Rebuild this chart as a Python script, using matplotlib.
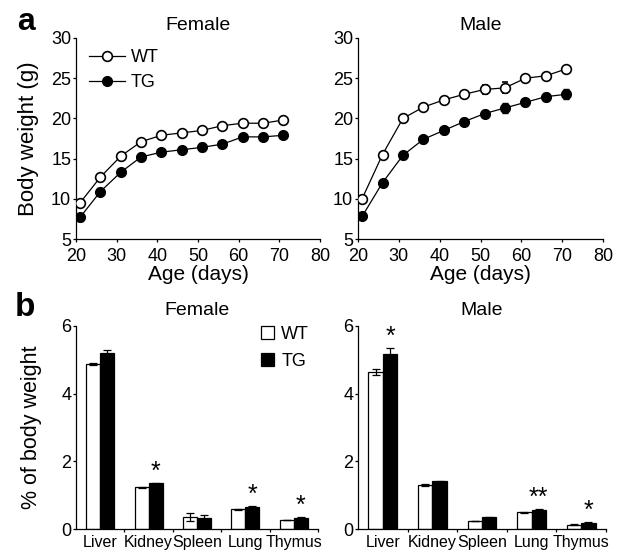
import numpy as np
import matplotlib
matplotlib.use("Agg")
import matplotlib.pyplot as plt

plt.rcParams['font.family'] = ['Liberation Sans', 'DejaVu Sans']

# body weight curves
ages = [21, 26, 31, 36, 41, 46, 51, 56, 61, 66, 71]
female_wt = [9.5, 12.7, 15.3, 17.1, 17.9, 18.2, 18.5, 19.1, 19.4, 19.4, 19.8]
female_wt_err = [0.3, 0.3, 0.3, 0.3, 0.3, 0.3, 0.3, 0.3, 0.4, 0.3, 0.3]
female_tg = [7.7, 10.9, 13.3, 15.2, 15.8, 16.1, 16.4, 16.8, 17.7, 17.7, 17.9]
female_tg_err = [0.4, 0.4, 0.4, 0.5, 0.4, 0.4, 0.5, 0.4, 0.4, 0.3, 0.3]
male_wt = [10.0, 15.5, 20.0, 21.4, 22.3, 23.0, 23.6, 23.8, 25.0, 25.3, 26.15]
male_wt_err = [0.3, 0.3, 0.3, 0.3, 0.3, 0.3, 0.6, 0.7, 0.4, 0.3, 0.3]
male_tg = [7.8, 12.0, 15.4, 17.4, 18.5, 19.6, 20.6, 21.3, 22.0, 22.7, 23.0]
male_tg_err = [0.3, 0.4, 0.4, 0.4, 0.4, 0.4, 0.4, 0.6, 0.4, 0.5, 0.6]

# organ weights
organs = ['Liver', 'Kidney', 'Spleen', 'Lung', 'Thymus']
f_org_wt = [4.89, 1.23, 0.36, 0.58, 0.27]
f_org_wt_err = [0.03, 0.02, 0.12, 0.02, 0.01]
f_org_tg = [5.21, 1.35, 0.33, 0.66, 0.33]
f_org_tg_err = [0.09, 0.01, 0.07, 0.01, 0.01]
m_org_wt = [4.64, 1.30, 0.24, 0.49, 0.13]
m_org_wt_err = [0.10, 0.03, 0.01, 0.01, 0.01]
m_org_tg = [5.17, 1.41, 0.34, 0.57, 0.17]
m_org_tg_err = [0.18, 0.01, 0.02, 0.01, 0.04]
f_stars = ['', '*', '', '*', '*']
m_stars = ['*', '', '', '**', '*']

W, H = 617, 553
fig = plt.figure(figsize=(W / 100, H / 100), dpi=100)


def rect(x0, x1, ytop, ybot):
    return [x0 / W, 1 - ybot / H, (x1 - x0) / W, (ybot - ytop) / H]


def style(ax):
    for s in ['top', 'right']:
        ax.spines[s].set_visible(False)
    for s in ['left', 'bottom']:
        ax.spines[s].set_linewidth(0.9)
    ax.tick_params(direction='out', length=2.5, width=0.9, labelsize=13, pad=1)


def growth(ax, wt, wt_err, tg, tg_err, title, legend=False):
    ax.errorbar(ages, wt, yerr=wt_err, fmt='-o', color='black', mfc='white',
                mec='black', mew=1.2, ms=7, lw=0.9, capsize=2, elinewidth=0.9,
                label='WT', zorder=3)
    ax.errorbar(ages, tg, yerr=tg_err, fmt='-o', color='black', mfc='black',
                mec='black', ms=7, lw=0.9, capsize=2, elinewidth=0.9,
                label='TG', zorder=3)
    ax.set_xlim(20, 80)
    ax.set_ylim(5, 30)
    ax.set_xticks(range(20, 81, 10))
    ax.set_yticks(range(5, 31, 5))
    ax.set_xlabel('Age (days)', fontsize=15, labelpad=0)
    ax.set_title(title, fontsize=14, pad=6)
    style(ax)
    ax.tick_params(axis='x', pad=4)
    if legend:
        h, l = ax.get_legend_handles_labels()
        h = [x[0] for x in h]
        ax.legend(h, l, loc='upper left', frameon=False, fontsize=13,
                  handlelength=2.0, handletextpad=0.3, labelspacing=0.45,
                  borderaxespad=0.2, bbox_to_anchor=(0.01, 1.0))


def organ_bars(ax, wt, wt_err, tg, tg_err, stars, title, legend=False):
    x = np.arange(len(organs)) + 0.5
    bw = 0.29
    ax.bar(x - bw / 2, wt, bw, yerr=wt_err, color='white', edgecolor='black',
           lw=0.9, capsize=3, error_kw=dict(elinewidth=0.9, capthick=0.9),
           label='WT')
    ax.bar(x + bw / 2, tg, bw, yerr=tg_err, color='black', edgecolor='black',
           lw=0.9, capsize=3, error_kw=dict(elinewidth=0.9, capthick=0.9),
           label='TG')
    for xi, v, e, s in zip(x, tg, tg_err, stars):
        if s:
            ax.text(xi + bw / 2, v + e - 0.02, s, ha='center', va='bottom',
                    fontsize=18)
    ax.set_xlim(0, len(organs))
    ax.set_ylim(0, 6)
    ax.set_yticks([0, 2, 4, 6])
    ax.set_xticks(np.arange(1, len(organs) + 1))
    ax.set_xticklabels([])
    ax.set_xticks(x, minor=True)
    ax.set_xticklabels(organs, minor=True, fontsize=11.5)
    style(ax)
    ax.tick_params(axis='x', which='minor', length=0, pad=4)
    ax.set_title(title, fontsize=14, pad=8)
    if legend:
        ax.legend(loc='upper right', frameon=False, fontsize=13,
                  handlelength=0.7, handleheight=0.7, handletextpad=0.4,
                  labelspacing=0.55, bbox_to_anchor=(1.03, 1.08))


ax1 = fig.add_axes(rect(76, 320, 38, 239))
growth(ax1, female_wt, female_wt_err, female_tg, female_tg_err, 'Female', legend=True)
ax1.set_ylabel('Body weight (g)', fontsize=16, labelpad=9)

ax2 = fig.add_axes(rect(358, 603, 38, 239))
growth(ax2, male_wt, male_wt_err, male_tg, male_tg_err, 'Male')

ax3 = fig.add_axes(rect(76, 318, 326, 529))
organ_bars(ax3, f_org_wt, f_org_wt_err, f_org_tg, f_org_tg_err, f_stars, 'Female', legend=True)
ax3.set_ylabel('% of body weight', fontsize=15.5, labelpad=14)

ax4 = fig.add_axes(rect(358, 606, 326, 529))
organ_bars(ax4, m_org_wt, m_org_wt_err, m_org_tg, m_org_tg_err, m_stars, 'Male')

fig.text(17 / W, 1 - 30 / H, 'a', fontsize=23, fontweight='bold')
fig.text(15 / W, 1 - 316 / H, 'b', fontsize=24, fontweight='bold')

fig.savefig('out.png', dpi=100)
